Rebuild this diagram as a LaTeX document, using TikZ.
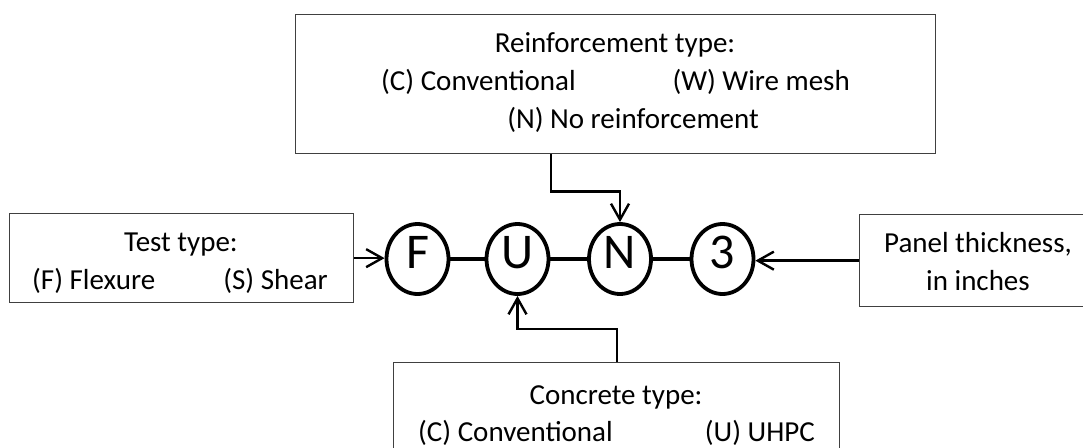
\documentclass[tikz,border=0pt]{standalone}
\usepackage{fontspec}
\setmainfont{Carlito}
\usetikzlibrary{arrows.meta,shapes.geometric}
\begin{document}
\begin{tikzpicture}[x=1pt,y=-1pt,
  box/.style={draw=black!75, line width=1.3pt, rectangle, inner sep=0pt, anchor=north west},
  txt/.style={inner sep=0pt, font=\fontsize{29}{35}\selectfont},
  ring/.style={ellipse, draw=black, line width=3.8pt, minimum width=62pt, minimum height=70pt,
    inner sep=0pt, text height=32pt, text depth=14pt, font=\fontsize{50}{50}\selectfont},
  link/.style={line width=3.8pt},
  arr/.style={line width=2.4pt, -{Straight Barb[length=16pt, width=18pt, line width=2.4pt]}}
]
\useasboundingbox (0,0) rectangle (1083,447);

% boxes
\node[box, minimum width=640pt, minimum height=139pt] (reinf) at (295,14) {};
\node[box, minimum width=344pt, minimum height=89pt] (test) at (9,213) {};
\node[box, minimum width=240pt, minimum height=92pt] (panel) at (859,214) {};
\node[box, minimum width=446pt, minimum height=120pt] (conc) at (393,362) {};

% texts
\node[txt, anchor=base] (reinfA) at (615,52) {Reinforcement type:};
\node[txt, anchor=base west] (reinfB) at (381,90) {(C) Conventional};
\node[txt, anchor=base east] (reinfC) at (850,90) {(W) Wire mesh};
\node[txt, anchor=base] (reinfD) at (633,128) {(N) No reinforcement};

\node[txt, anchor=base] (testA) at (181,251) {Test type:};
\node[txt, anchor=base west] (testB) at (32,289) {(F) Flexure};
\node[txt, anchor=base east] (testC) at (328,289) {(S) Shear};

\node[txt, anchor=base] (panelA) at (978,252) {Panel thickness,};
\node[txt, anchor=base] (panelB) at (978,290) {in inches};

\node[txt, anchor=base] (concA) at (616,404) {Concrete type:};
\node[txt, anchor=base west] (concB) at (418,441) {(C) Conventional};
\node[txt, anchor=base east] (concC) at (815,441) {(U) UHPC};

% circles
\node[ring] (cF) at (417.5,259) {F};
\node[ring] (cU) at (517.5,259) {U};
\node[ring] (cN) at (620,259) {N};
\node[ring] (c3) at (722.5,259) {3};

\draw[link] (cF) -- (cU);
\draw[link] (cU) -- (cN);
\draw[link] (cN) -- (c3);

% arrows
\coordinate (tA) at (551,153);
\coordinate (bA) at (617,362);
\draw[arr] (test.east) -- (test.east -| cF.west);
\draw[arr] (panel.west) -- (panel.west -| c3.east);
\draw[arr] (reinf.south -| tA) -- ++(0,37) -| (cN.north);
\draw[arr] (conc.north -| bA) -- ++(0,-33) -| (cU.south);
\end{tikzpicture}
\end{document}
